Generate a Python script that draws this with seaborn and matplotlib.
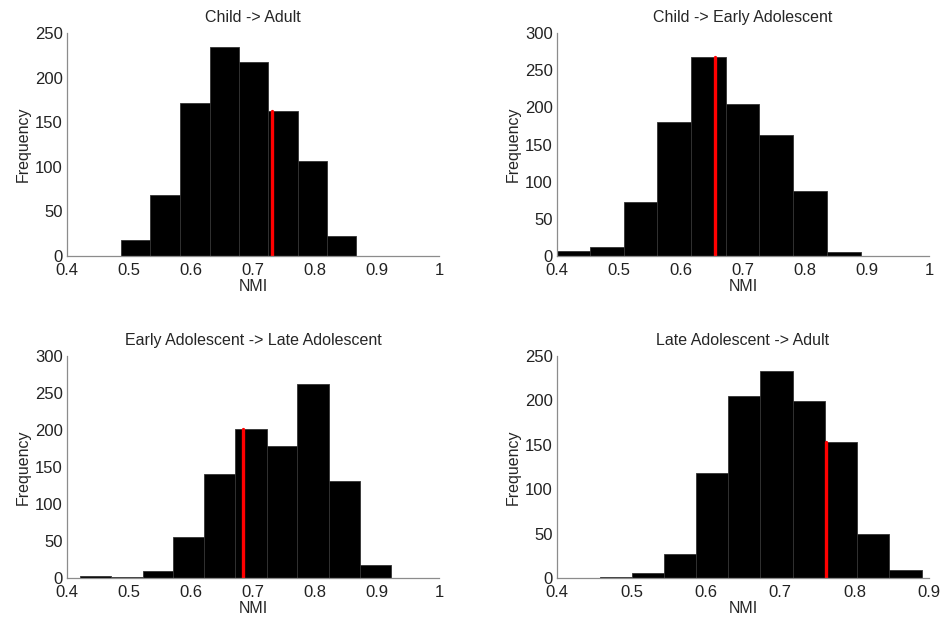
import numpy as np
import matplotlib
matplotlib.use('Agg')
import matplotlib.pyplot as plt
import seaborn as sns
from matplotlib.ticker import FuncFormatter

titulos = ['Child -> Adult', 'Child -> Early Adolescent',
           'Early Adolescent -> Late Adolescent', 'Late Adolescent -> Adult']

bordas_1 = [0.487, 0.534, 0.583, 0.630, 0.678, 0.725, 0.773, 0.819, 0.867]
contagens_1 = [18, 68, 171, 234, 218, 162, 107, 22]

bordas_2 = [0.398, 0.453, 0.508, 0.562, 0.616, 0.672, 0.726, 0.781, 0.836, 0.890]
contagens_2 = [7, 12, 73, 180, 268, 204, 163, 87, 6]

bordas_3 = [0.4215, 0.4714, 0.5224, 0.5718, 0.6218, 0.6717, 0.7222, 0.7716, 0.8221, 0.872, 0.922]
contagens_3 = [3, 1, 10, 55, 141, 201, 179, 262, 131, 17]

bordas_4 = [0.458, 0.501, 0.544, 0.587, 0.630, 0.673, 0.717, 0.760, 0.803, 0.846, 0.890]
contagens_4 = [1, 6, 27, 118, 205, 233, 199, 153, 49, 9]

nmi_real = [0.730, 0.6554, 0.6836, 0.7616]
xlims = [(0.4, 1.0), (0.4, 1.0), (0.4, 1.0), (0.4, 0.9)]
ylims = [250, 300, 300, 250]

sns.set_style('white')
plt.rcParams['font.family'] = ['Liberation Sans', 'DejaVu Sans']

fig = plt.figure(figsize=(9.47, 6.17), dpi=100)
posicoes = [
    [0.0707, 0.5851, 0.3928, 0.3614],
    [0.5882, 0.5851, 0.3928, 0.3614],
    [0.0707, 0.0632, 0.3928, 0.3598],
    [0.5882, 0.0632, 0.3928, 0.3598],
]

dados = [(bordas_1, contagens_1), (bordas_2, contagens_2),
         (bordas_3, contagens_3), (bordas_4, contagens_4)]

for i, (bordas, contagens) in enumerate(dados):
    ax = fig.add_axes(posicoes[i])
    b = np.array(bordas)
    centros = (b[:-1] + b[1:]) / 2
    sns.histplot(x=list(centros), weights=list(contagens), bins=list(bordas), color='black',
                 edgecolor='#333333', linewidth=0.6, alpha=1, ax=ax)
    # altura da barra onde cai o valor real
    idx = np.searchsorted(b, nmi_real[i]) - 1
    ax.plot([nmi_real[i], nmi_real[i]], [0, contagens[idx]], color='red', lw=2.4)
    ax.set_xlim(*xlims[i])
    ax.set_ylim(0, ylims[i])
    ax.set_xticks(np.arange(xlims[i][0], xlims[i][1] + 0.001, 0.1))
    ax.set_yticks(np.arange(0, ylims[i] + 1, 50))
    ax.xaxis.set_major_formatter(FuncFormatter(lambda v, p: f'{v:g}'))
    ax.tick_params(length=0, labelsize=12, colors='#222222')
    ax.tick_params(axis='x', pad=5)
    ax.tick_params(axis='y', pad=3)
    sns.despine(ax=ax)
    for s in ['left', 'bottom']:
        ax.spines[s].set_color('#8c8c8c')
        ax.spines[s].set_linewidth(0.9)
    ax.set_title(titulos[i], fontsize=11.5, pad=8)
    ax.set_xlabel('NMI', fontsize=11.5, labelpad=1)
    ax.set_ylabel('Frequency', fontsize=11.5, labelpad=3)

plt.savefig('out.png', dpi=100)
